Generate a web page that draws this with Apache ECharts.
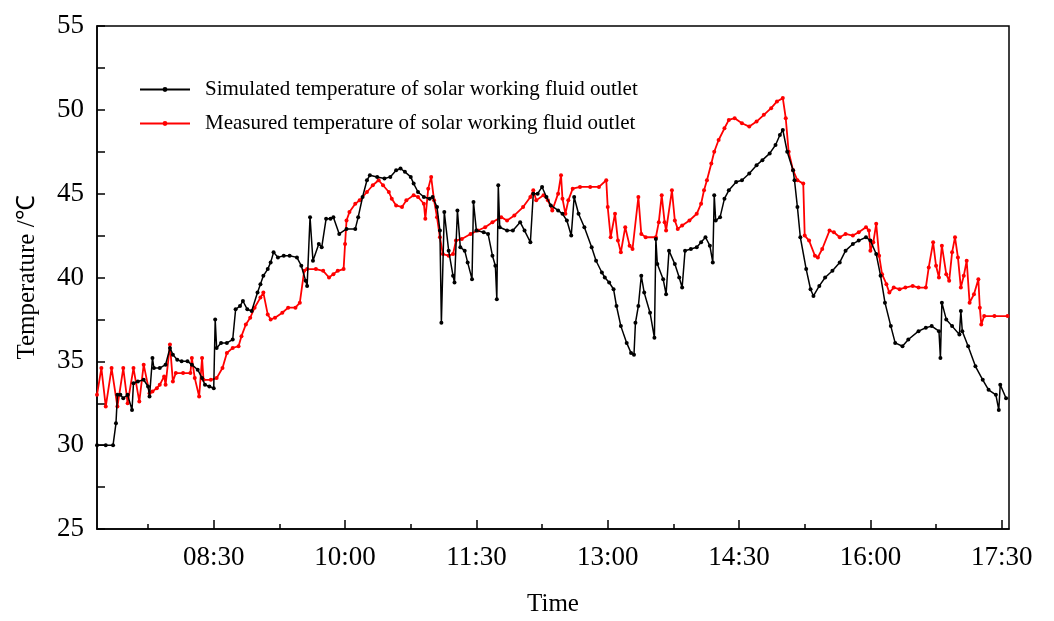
<!DOCTYPE html>
<html>
<head>
<meta charset="utf-8">
<script src="https://cdn.jsdelivr.net/npm/echarts@6/dist/echarts.min.js"></script>
<style>
  html, body { margin: 0; padding: 0; background: #fff; }
  #chart { width: 1054px; height: 621px; }
</style>
</head>
<body>
<div id="chart"></div>
<script>
// Outlet temperature of the solar working fluid over one day, [time, °C]
const simulated = [
  ['07:10',30.0],['07:16',30.0],['07:21',30.0],['07:23',31.3],['07:24',33.0],['07:26',33.0],['07:28',32.8],
  ['07:31',33.0],['07:34',32.1],['07:35',33.7],['07:38',33.8],['07:42',33.9],['07:45',33.5],['07:46',32.9],
  ['07:48',35.2],['07:49',34.6],['07:53',34.6],['07:57',34.8],['08:00',35.8],['08:02',35.4],['08:05',35.1],
  ['08:08',35.0],['08:12',35.0],['08:15',34.8],['08:19',34.5],['08:22',34.0],['08:24',33.6],['08:27',33.5],
  ['08:30',33.4],['08:31',37.5],['08:32',35.8],['08:35',36.1],['08:39',36.1],['08:43',36.3],['08:45',38.1],
  ['08:48',38.3],['08:50',38.6],['08:53',38.1],['08:56',38.0],['09:00',39.1],['09:02',39.6],['09:04',40.1],
  ['09:07',40.5],['09:09',40.9],['09:11',41.5],['09:14',41.2],['09:18',41.3],['09:22',41.3],['09:27',41.2],
  ['09:30',40.7],['09:33',39.8],['09:34',39.5],['09:36',43.6],['09:38',41.0],['09:42',42.0],['09:44',41.8],
  ['09:47',43.5],['09:50',43.5],['09:52',43.6],['09:56',42.6],['10:01',42.9],['10:07',42.9],['10:09',43.6],
  ['10:12',44.8],['10:15',45.8],['10:17',46.1],['10:22',46.0],['10:27',45.9],['10:31',46.0],['10:35',46.4],
  ['10:38',46.5],['10:41',46.3],['10:45',46.0],['10:47',45.6],['10:50',45.1],['10:54',44.8],['10:58',44.7],
  ['11:00',44.8],['11:03',44.2],['11:05',42.8],['11:06',37.3],['11:08',43.9],['11:11',41.6],['11:14',40.1],
  ['11:15',39.7],['11:17',44.0],['11:19',41.8],['11:22',41.6],['11:24',40.9],['11:27',39.9],['11:28',44.5],
  ['11:30',42.8],['11:35',42.7],['11:38',42.6],['11:41',41.3],['11:43',40.7],['11:44',38.7],['11:45',45.5],
  ['11:46',43.0],['11:51',42.8],['11:55',42.8],['12:00',43.3],['12:03',42.8],['12:07',42.1],['12:09',45.0],
  ['12:12',45.0],['12:15',45.4],['12:18',44.8],['12:21',44.3],['12:26',44.0],['12:29',43.8],['12:32',43.4],
  ['12:35',42.5],['12:37',44.8],['12:40',43.8],['12:44',43.0],['12:49',41.8],['12:52',41.0],['12:56',40.3],
  ['12:58',40.0],['13:01',39.7],['13:04',39.3],['13:06',38.3],['13:09',37.1],['13:13',36.1],['13:16',35.5],
  ['13:18',35.4],['13:19',37.3],['13:21',38.3],['13:23',40.1],['13:25',39.1],['13:29',37.9],['13:32',36.4],
  ['13:33',42.3],['13:34',40.8],['13:38',39.9],['13:40',39.0],['13:42',41.6],['13:46',40.8],['13:49',40.0],
  ['13:51',39.4],['13:53',41.6],['13:57',41.7],['14:01',41.8],['14:04',42.1],['14:07',42.4],['14:10',41.9],
  ['14:12',40.9],['14:13',44.9],['14:14',43.4],['14:17',43.6],['14:20',44.7],['14:23',45.2],['14:28',45.7],
  ['14:32',45.8],['14:37',46.2],['14:42',46.7],['14:46',47.0],['14:51',47.4],['14:55',47.9],['14:58',48.5],
  ['15:00',48.8],['15:03',47.5],['15:07',46.4],['15:08',45.8],['15:10',44.2],['15:12',42.4],['15:16',40.5],
  ['15:19',39.3],['15:21',38.9],['15:25',39.5],['15:29',40.0],['15:34',40.4],['15:39',40.9],['15:43',41.6],
  ['15:48',42.0],['15:52',42.2],['15:57',42.4],['16:00',42.2],['16:04',41.4],['16:07',40.1],['16:10',38.5],
  ['16:14',37.1],['16:17',36.1],['16:22',35.9],['16:26',36.3],['16:33',36.8],['16:38',37.0],['16:42',37.1],
  ['16:47',36.8],['16:48',35.2],['16:49',38.5],['16:52',37.5],['16:56',37.1],['17:01',36.6],['17:02',38.0],
  ['17:03',36.8],['17:07',35.9],['17:12',34.7],['17:17',33.9],['17:21',33.3],['17:26',33.0],['17:28',32.1],
  ['17:29',33.6],['17:33',32.8]
];

const measured = [
  ['07:10',33.0],['07:13',34.6],['07:16',32.3],['07:20',34.6],['07:24',32.3],['07:28',34.6],['07:31',32.5],
  ['07:35',34.6],['07:39',32.6],['07:42',34.8],['07:46',33.1],['07:48',33.2],['07:51',33.4],['07:53',33.6],
  ['07:56',34.1],['07:57',33.6],['08:00',36.0],['08:02',33.8],['08:04',34.3],['08:09',34.3],['08:14',34.3],
  ['08:15',35.2],['08:17',34.0],['08:20',32.9],['08:22',35.2],['08:23',33.9],['08:28',33.9],['08:32',34.0],
  ['08:36',34.6],['08:39',35.5],['08:43',35.8],['08:47',35.9],['08:49',36.5],['08:52',37.2],['08:55',37.6],
  ['08:58',38.2],['09:02',38.8],['09:04',39.1],['09:07',37.8],['09:09',37.5],['09:12',37.6],['09:17',37.9],
  ['09:21',38.2],['09:26',38.2],['09:29',38.5],['09:32',40.4],['09:34',40.5],['09:40',40.5],['09:45',40.4],
  ['09:49',40.0],['09:52',40.2],['09:55',40.4],['09:59',40.5],['10:00',42.0],['10:01',43.4],['10:03',43.9],
  ['10:07',44.4],['10:10',44.6],['10:15',45.1],['10:19',45.5],['10:23',45.8],['10:26',45.5],['10:30',45.1],
  ['10:32',44.7],['10:35',44.3],['10:39',44.2],['10:42',44.6],['10:47',44.9],['10:50',44.8],['10:54',44.4],
  ['10:55',43.5],['10:57',45.3],['10:59',46.0],['11:01',44.6],['11:03',43.6],['11:05',42.4],['11:07',41.4],
  ['11:11',41.3],['11:14',41.4],['11:16',42.2],['11:20',42.3],['11:26',42.6],['11:31',42.8],['11:36',43.0],
  ['11:41',43.3],['11:47',43.6],['11:51',43.4],['11:56',43.7],['12:02',44.2],['12:07',44.8],['12:09',45.2],
  ['12:11',44.6],['12:16',44.9],['12:19',44.6],['12:22',44.0],['12:26',45.0],['12:28',46.1],['12:29',44.7],
  ['12:31',43.8],['12:33',44.6],['12:36',45.3],['12:41',45.4],['12:48',45.4],['12:54',45.4],['12:59',45.8],
  ['13:00',44.2],['13:02',42.4],['13:05',43.8],['13:07',42.2],['13:09',41.5],['13:12',43.0],['13:15',41.9],
  ['13:17',41.7],['13:21',44.8],['13:23',42.6],['13:26',42.4],['13:33',42.4],['13:35',43.3],['13:37',44.9],
  ['13:39',43.3],['13:40',42.8],['13:44',45.2],['13:46',43.4],['13:48',42.9],['13:51',43.1],['13:56',43.4],
  ['14:01',43.8],['14:04',44.4],['14:06',45.2],['14:08',45.8],['14:11',46.8],['14:13',47.5],['14:16',48.2],
  ['14:20',48.9],['14:23',49.4],['14:27',49.5],['14:32',49.2],['14:37',49.0],['14:42',49.3],['14:47',49.7],
  ['14:52',50.1],['14:56',50.5],['15:00',50.7],['15:02',49.5],['15:04',47.5],['15:07',46.4],['15:10',45.8],
  ['15:14',45.6],['15:15',42.5],['15:18',42.2],['15:22',41.3],['15:24',41.2],['15:27',41.7],['15:32',42.8],
  ['15:35',42.7],['15:39',42.4],['15:43',42.6],['15:48',42.5],['15:52',42.7],['15:57',43.0],['15:59',42.8],
  ['16:00',41.6],['16:02',42.1],['16:04',43.2],['16:06',41.3],['16:08',40.2],['16:11',39.6],['16:13',39.1],
  ['16:16',39.4],['16:20',39.3],['16:24',39.4],['16:29',39.5],['16:33',39.4],['16:38',39.4],['16:40',40.6],
  ['16:43',42.1],['16:45',40.7],['16:47',40.0],['16:49',41.9],['16:52',40.2],['16:54',39.8],['16:56',41.5],
  ['16:58',42.4],['17:00',41.2],['17:02',39.4],['17:04',40.1],['17:06',41.0],['17:08',38.5],['17:11',39.0],
  ['17:14',39.9],['17:15',38.2],['17:16',37.2],['17:18',37.7],['17:25',37.7],['17:34',37.7]
];

// Axis range and tick positions
const timeStart = '07:10';
const timeEnd = '17:35';
const majorTicks = ['08:30', '10:00', '11:30', '13:00', '14:30', '16:00', '17:30'];
const minorTicks = ['07:45', '09:15', '10:45', '12:15', '13:45', '15:15', '16:45'];
const tempMin = 25, tempMax = 55, tempStep = 2.5;

const seriesNames = [
  'Simulated temperature of solar working fluid outlet',
  'Measured temperature of solar working fluid outlet'
];

const toMin = s => { const [h, m] = s.split(':').map(Number); return h * 60 + m; };
const toClock = v => {
  const h = Math.floor(v / 60), m = Math.round(v - h * 60);
  return String(h).padStart(2, '0') + ':' + String(m).padStart(2, '0');
};
const asPoints = rows => rows.map(([t, v]) => [toMin(t), v]);

const serif = 'Liberation Serif, Times New Roman, serif';
const chart = echarts.init(document.getElementById('chart'), null, { renderer: 'canvas' });

const baseX = {
  type: 'value',
  min: toMin(timeStart),
  max: toMin(timeEnd),
  position: 'bottom',
  splitLine: { show: false }
};

chart.setOption({
  animation: false,
  backgroundColor: '#fff',
  grid: {
    left: 97, right: 45, top: 26, bottom: 92,
    outerBoundsMode: 'none',
    containLabel: false,
    show: true, borderColor: '#000', borderWidth: 1.5, backgroundColor: 'transparent'
  },
  legend: {
    orient: 'vertical',
    left: 134, top: 74,
    itemWidth: 50, itemHeight: 6, itemGap: 13,
    textStyle: { fontFamily: serif, fontSize: 21, color: '#000', padding: [0, 0, 0, 10] },
    data: seriesNames
  },
  xAxis: [
    Object.assign({}, baseX, {
      name: 'Time',
      nameLocation: 'middle',
      nameGap: 63,
      nameTextStyle: { fontFamily: serif, fontSize: 25, color: '#000' },
      axisLine: { show: true, lineStyle: { color: '#000', width: 1.5 } },
      axisTick: { show: true, inside: true, length: 9, lineStyle: { color: '#000', width: 1.5 },
                  customValues: majorTicks.map(toMin) },
      axisLabel: { show: true, margin: 15, fontFamily: serif, fontSize: 27, color: '#000',
                   customValues: majorTicks.map(toMin), formatter: toClock }
    }),
    Object.assign({}, baseX, {
      axisLine: { show: false },
      axisTick: { show: true, inside: true, length: 5, lineStyle: { color: '#000', width: 1.5 },
                  customValues: minorTicks.map(toMin) },
      axisLabel: { show: false }
    })
  ],
  yAxis: {
    type: 'value',
    min: tempMin, max: tempMax, interval: tempStep,
    name: 'Temperature /℃',
    nameLocation: 'middle',
    nameGap: 57,
    nameTextStyle: { fontFamily: serif, fontSize: 25, color: '#000' },
    splitLine: { show: false },
    axisLine: { show: true, lineStyle: { color: '#000', width: 1.5 } },
    axisTick: { show: true, inside: true, length: 8, lineStyle: { color: '#000', width: 1.5 } },
    axisLabel: {
      margin: 13, fontFamily: serif, fontSize: 27, color: '#000',
      formatter: v => (v % 5 === 0 ? String(v) : '')
    }
  },
  series: [
    {
      name: seriesNames[0], type: 'line', xAxisIndex: 0,
      data: asPoints(simulated),
      symbol: 'circle', symbolSize: 4, showSymbol: true,
      lineStyle: { color: '#000', width: 1.5 },
      itemStyle: { color: '#000' },
      z: 3
    },
    {
      name: seriesNames[1], type: 'line', xAxisIndex: 0,
      data: asPoints(measured),
      symbol: 'circle', symbolSize: 4, showSymbol: true,
      lineStyle: { color: '#ff0000', width: 1.8 },
      itemStyle: { color: '#ff0000' },
      z: 2
    }
  ]
});
</script>
</body>
</html>
